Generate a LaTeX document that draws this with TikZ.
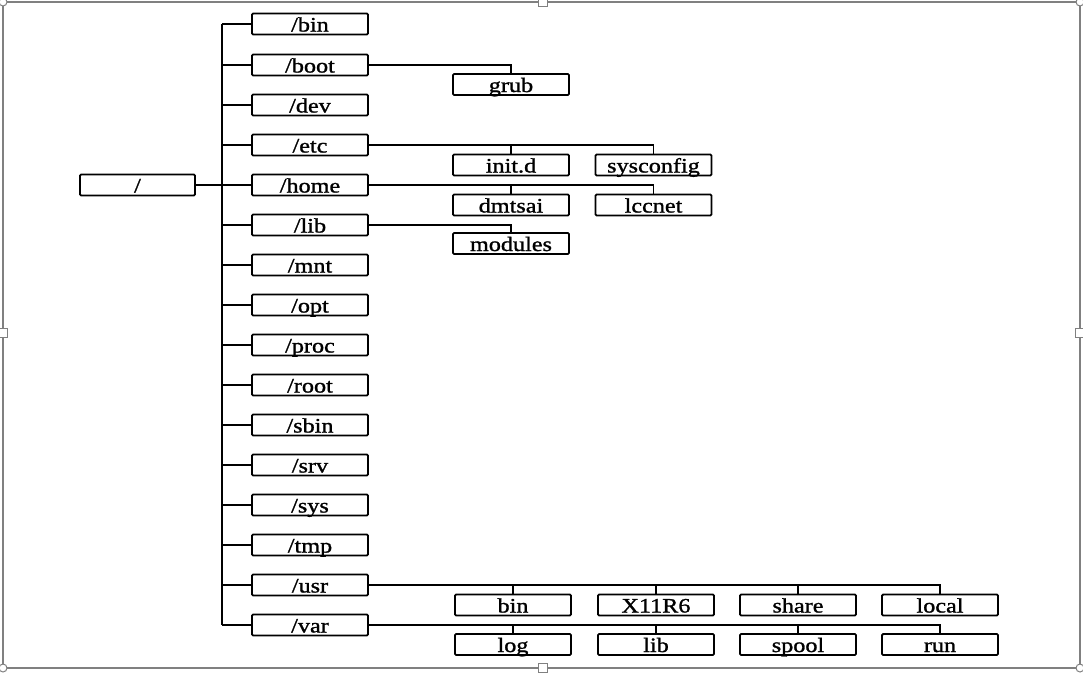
\documentclass[tikz,border=0pt]{standalone}
\usepackage{fontspec}
\setmainfont[FakeStretch=1.18,FakeBold=1.2]{Liberation Serif}
\begin{document}
\begin{tikzpicture}[x=1pt,y=-1pt,
  box/.style={draw=black,line width=1.8pt,rounded corners=1.2pt,minimum width=116pt,minimum height=21pt,inner sep=0pt,text height=15pt,text depth=0pt,font=\fontsize{20.5}{20.5}\selectfont},
  conn/.style={draw=black,line width=1.3pt},
  frameline/.style={draw=black!50,line width=1.4pt},
  handle/.style={draw=black!50,fill=white,line width=1pt}]
\useasboundingbox (0,0) rectangle (1083,673);
% frame
\draw[frameline] (3,2) rectangle (1080,668);
\foreach \p in {(543,2),(543,668),(3,333),(1080,333)}
  \draw[handle] \p ++(-4.5,-4.5) rectangle ++(9,9);
\foreach \p in {(3,2),(1080,2),(3,668),(1080,668)}
  \draw[handle] \p circle (4);
% root
\node[box,minimum width=115pt] (root) at (137.5,185) {/};
% level 1
\foreach \n/\t/\y in {bin/bin/24,boot/boot/65,dev/dev/105,etc/etc/145,home/home/185,lib/lib/225,mnt/mnt/265,opt/opt/305,proc/proc/345,rootd/root/385,sbin/sbin/425,srv/srv/465,sys/sys/505,tmp/tmp/545,usr/usr/585,var/var/625}
  \node[box] (\n) at (310,\y) {/\t};
\coordinate (T) at (222,0);
\draw[conn] (root.east) -- (root.east -| T);
\draw[conn] (bin.west -| T) -- (var.west -| T);
\foreach \n in {bin,boot,dev,etc,home,lib,mnt,opt,proc,rootd,sbin,srv,sys,tmp,usr,var}
  \draw[conn] (\n.west) -- (\n.west -| T);
% level 2
\node[box] (grub) at (511,84.5) {grub};
\node[box] (initd) at (511,165) {init.d};
\node[box] (sysconfig) at (653.5,165) {sysconfig};
\node[box] (dmtsai) at (511,205) {dmtsai};
\node[box] (lccnet) at (653.5,205) {lccnet};
\node[box] (modules) at (511,243.5) {modules};
\node[box] (ubin) at (513,605) {bin};
\node[box] (x11) at (656,605) {X11R6};
\node[box] (share) at (798,605) {share};
\node[box] (local) at (940,605) {local};
\node[box] (log) at (513,644.5) {log};
\node[box] (vlib) at (656,644.5) {lib};
\node[box] (spool) at (798,644.5) {spool};
\node[box] (run) at (940,644.5) {run};
\draw[conn] (boot.east) -| (grub.north);
\draw[conn] (etc.east) -| (sysconfig.north);
\draw[conn] (initd.north) -- (initd.north |- etc.east);
\draw[conn] (home.east) -| (lccnet.north);
\draw[conn] (dmtsai.north) -- (dmtsai.north |- home.east);
\draw[conn] (lib.east) -| (modules.north);
\draw[conn] (usr.east) -| (local.north);
\foreach \n in {ubin,x11,share}
  \draw[conn] (\n.north) -- (\n.north |- usr.east);
\draw[conn] (var.east) -| (run.north);
\foreach \n in {log,vlib,spool}
  \draw[conn] (\n.north) -- (\n.north |- var.east);
\end{tikzpicture}
\end{document}
